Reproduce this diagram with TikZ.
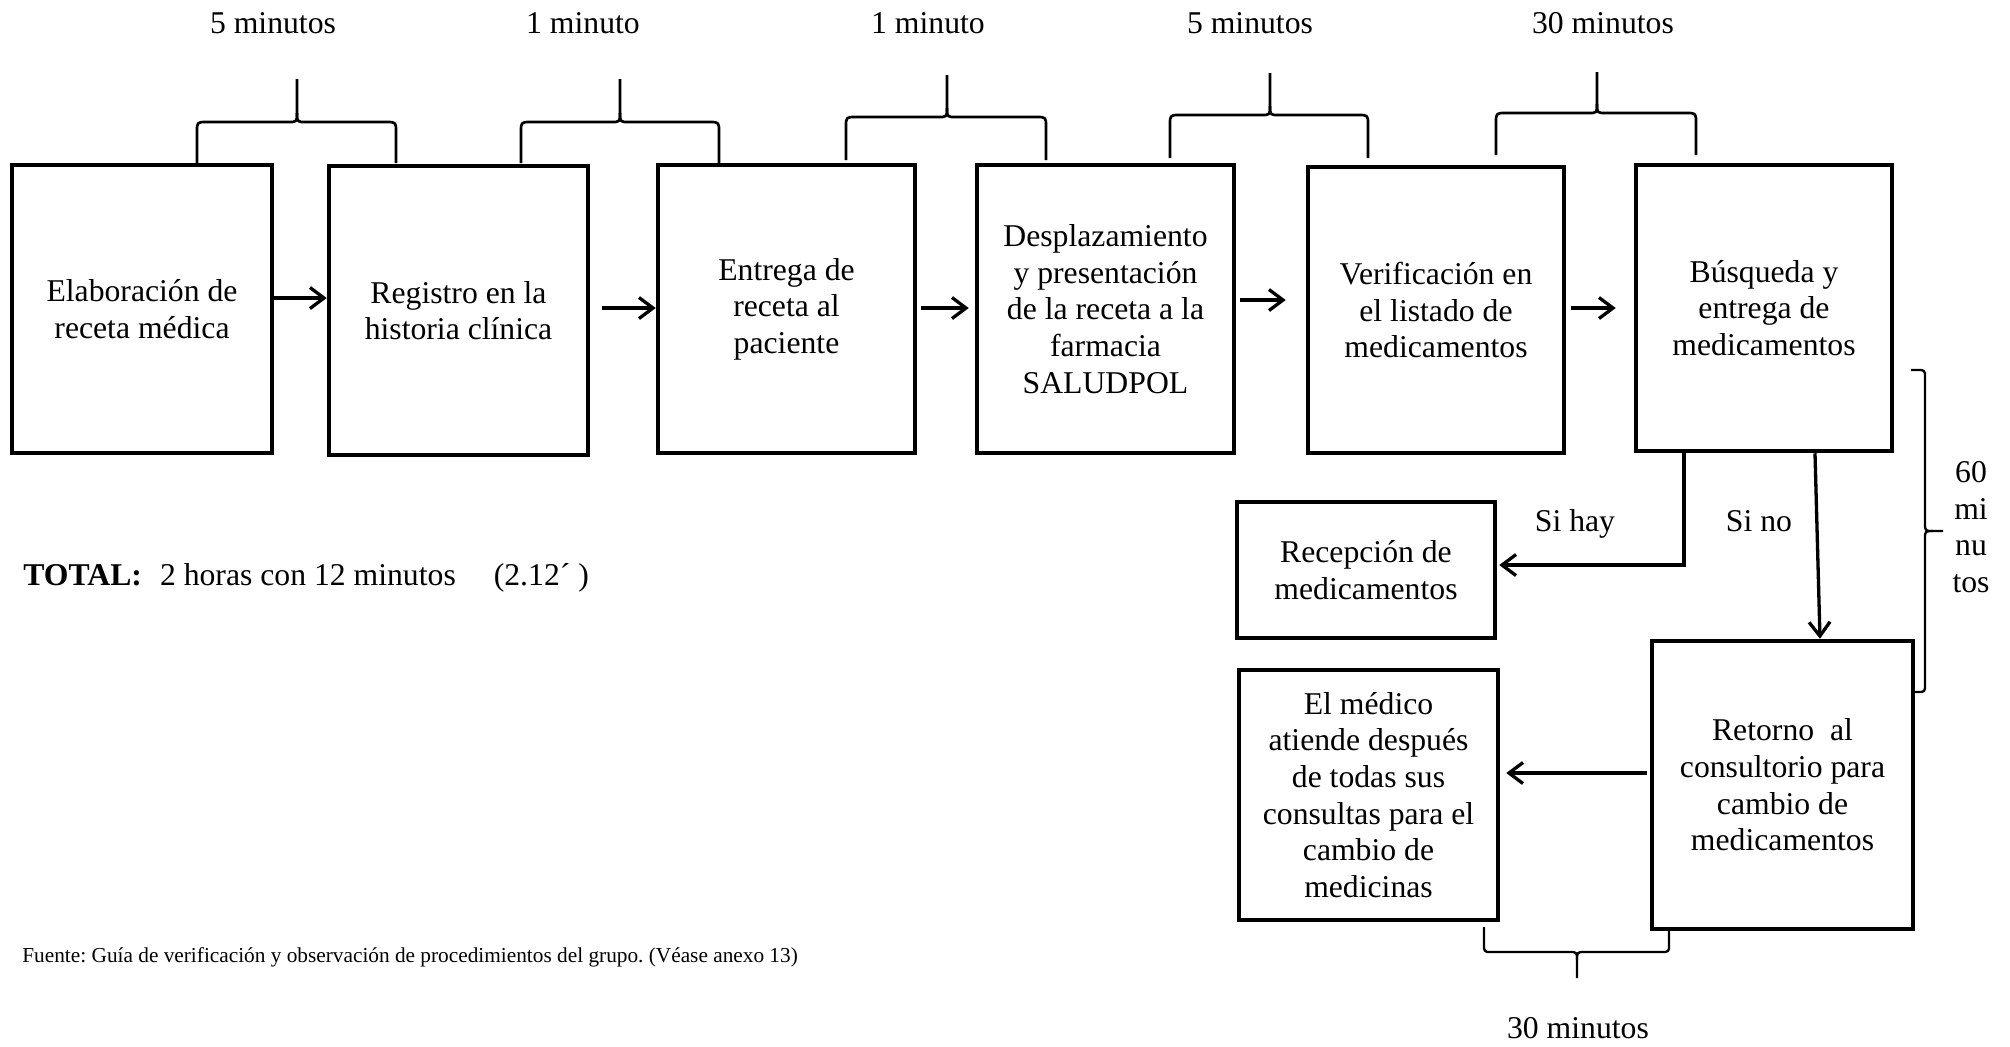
\documentclass[tikz,border=0pt]{standalone}
\usepackage{fontspec}
\setmainfont{Liberation Serif}
\usetikzlibrary{arrows.meta}
\frenchspacing
\newcommand\boxfont{\fontsize{15.85}{18.3}\selectfont}
\newcommand\notefont{\fontsize{10.65}{12.5}\selectfont}
% curly brace opening downwards: legs at xl and xr, tip at xt
\newcommand\timebrace[6]{%
  \draw[brace] (#1,#6) -- (#1,#5+10) .. controls (#1,#5) .. (#1+10,#5)
     -- (#2-9,#5) .. controls (#2,#5) .. (#2,#5-9) -- (#2,#4);
  \draw[brace] (#3,#6) -- (#3,#5+10) .. controls (#3,#5) .. (#3-10,#5)
     -- (#2+9,#5) .. controls (#2,#5) .. (#2,#5-9);
}
\begin{document}
\begin{tikzpicture}[x=0.5pt,y=-0.5pt,
  stepbox/.style={draw, line width=2.25pt, inner sep=0pt, align=center, font=\boxfont},
  flow/.style={line width=1.65pt, -{Straight Barb[length=7pt,width=10.5pt]}},
  brace/.style={line width=1.35pt, line join=round},
  thinbrace/.style={line width=1.15pt, line join=round},
  lbl/.style={inner sep=0pt, font=\boxfont}]
\useasboundingbox (0,0) rectangle (2010,1046);

% process steps
\node[stepbox, minimum width=130pt, minimum height=144pt] (b1) at (142,309) {Elaboración de\\receta médica};
\node[stepbox, minimum width=129.5pt, minimum height=144.5pt] (b2) at (458.5,310.5) {Registro en la\\historia clínica};
\node[stepbox, minimum width=128.5pt, minimum height=144pt] (b3) at (786.5,309) {Entrega de\\receta al\\paciente};
\node[stepbox, minimum width=128.5pt, minimum height=144pt] (b4) at (1105.5,309) {Desplazamiento\\y presentación\\de la receta a la\\farmacia\\SALUDPOL};
\node[stepbox, minimum width=128pt, minimum height=143pt] (b5) at (1436,310) {Verificación en\\el listado de\\medicamentos};
\node[stepbox, minimum width=128pt, minimum height=143pt] (b6) at (1764,308) {Búsqueda y\\entrega de\\medicamentos};
\node[stepbox, minimum width=129pt, minimum height=68pt] (rec) at (1366,570) {Recepción de\\medicamentos};
\node[stepbox, minimum width=130.5pt, minimum height=144pt] (ret) at (1782.5,785) {Retorno\ \ al\\consultorio para\\cambio de\\medicamentos};
\node[stepbox, minimum width=129.5pt, minimum height=125pt] (med) at (1368.5,795) {El médico\\atiende después\\de todas sus\\consultas para el\\cambio de\\medicinas};

% flow arrows
\draw[flow] ([yshift=5.5pt]b1.east) coordinate (a1) -- (b2.west |- a1);
\draw[flow, shorten <=6pt] ([yshift=1.25pt]b2.east) coordinate (a2) -- (b3.west |- a2);
\draw[flow, shorten <=2pt, shorten >=3pt] ([yshift=0.5pt]b3.east) coordinate (a3) -- (b4.west |- a3);
\draw[flow, shorten <=2pt, shorten >=10pt] ([yshift=4.5pt]b4.east) coordinate (a4) -- (b5.west |- a4);
\draw[flow, shorten <=2.5pt, shorten >=9pt] ([yshift=1pt]b5.east) coordinate (a5) -- (b6.west |- a5);
\draw[flow, shorten >=1pt] ([xshift=-40pt]b6.south) |- ([yshift=2.5pt]rec.east);
\draw[flow] ([xshift=25.5pt]b6.south) -- ([xshift=18.75pt]ret.north);
\draw[flow, shorten <=1.5pt, shorten >=3pt] ([yshift=6pt]ret.west) coordinate (a6) -- (med.east |- a6);

% branch labels
\node[lbl, anchor=base] (hay) at (1575,531) {Si hay};
\node[lbl, anchor=base] (no) at (1759,531) {Si no};

% time braces above the steps
\timebrace{197}{297}{396}{79}{122}{163}
\timebrace{521}{620}{719}{79}{122}{163}
\timebrace{846}{947}{1046}{75}{117}{160}
\timebrace{1170}{1270}{1368}{73}{115}{158}
\timebrace{1496}{1597}{1696}{72}{113}{155}
\node[lbl, anchor=base] (m1) at (273,33) {5 minutos};
\node[lbl, anchor=base] (m2) at (583,33) {1 minuto};
\node[lbl, anchor=base] (m3) at (928,33) {1 minuto};
\node[lbl, anchor=base] (m4) at (1250,33) {5 minutos};
\node[lbl, anchor=base] (m5) at (1603,33) {30 minutos};

% brace on the right side
\draw[thinbrace] (1911,370) -- (1917,370) .. controls (1925,370) .. (1925,378) -- (1925,523)
   .. controls (1925,531) .. (1933,531) -- (1943,531);
\draw[thinbrace] (1911,692) -- (1917,692) .. controls (1925,692) .. (1925,684) -- (1925,539)
   .. controls (1925,531) .. (1933,531);
\node[lbl, align=center] (m6) at (1971,527) {60\\mi\\nu\\tos};

% brace below the last two steps
\draw[thinbrace] (1484,927) -- (1484,944) .. controls (1484,952) .. (1492,952) -- (1569,952)
   .. controls (1577,952) .. (1577,960) -- (1577,978);
\draw[thinbrace] (1669,927) -- (1669,944) .. controls (1669,952) .. (1661,952) -- (1585,952)
   .. controls (1577,952) .. (1577,960);
\node[lbl, anchor=base] (m7) at (1578,1038) {30 minutos};

% totals and source
\node[lbl, anchor=base west] (total) at (23,585) {\textbf{TOTAL:}\hspace{9pt}2 horas con 12 minutos\hspace{19pt}(2.12´ )};
\node[inner sep=0pt, anchor=base west, font=\notefont] (src) at (22,962) {Fuente: Guía de verificación y observación de procedimientos del grupo. (Véase anexo 13)};
\end{tikzpicture}
\end{document}
